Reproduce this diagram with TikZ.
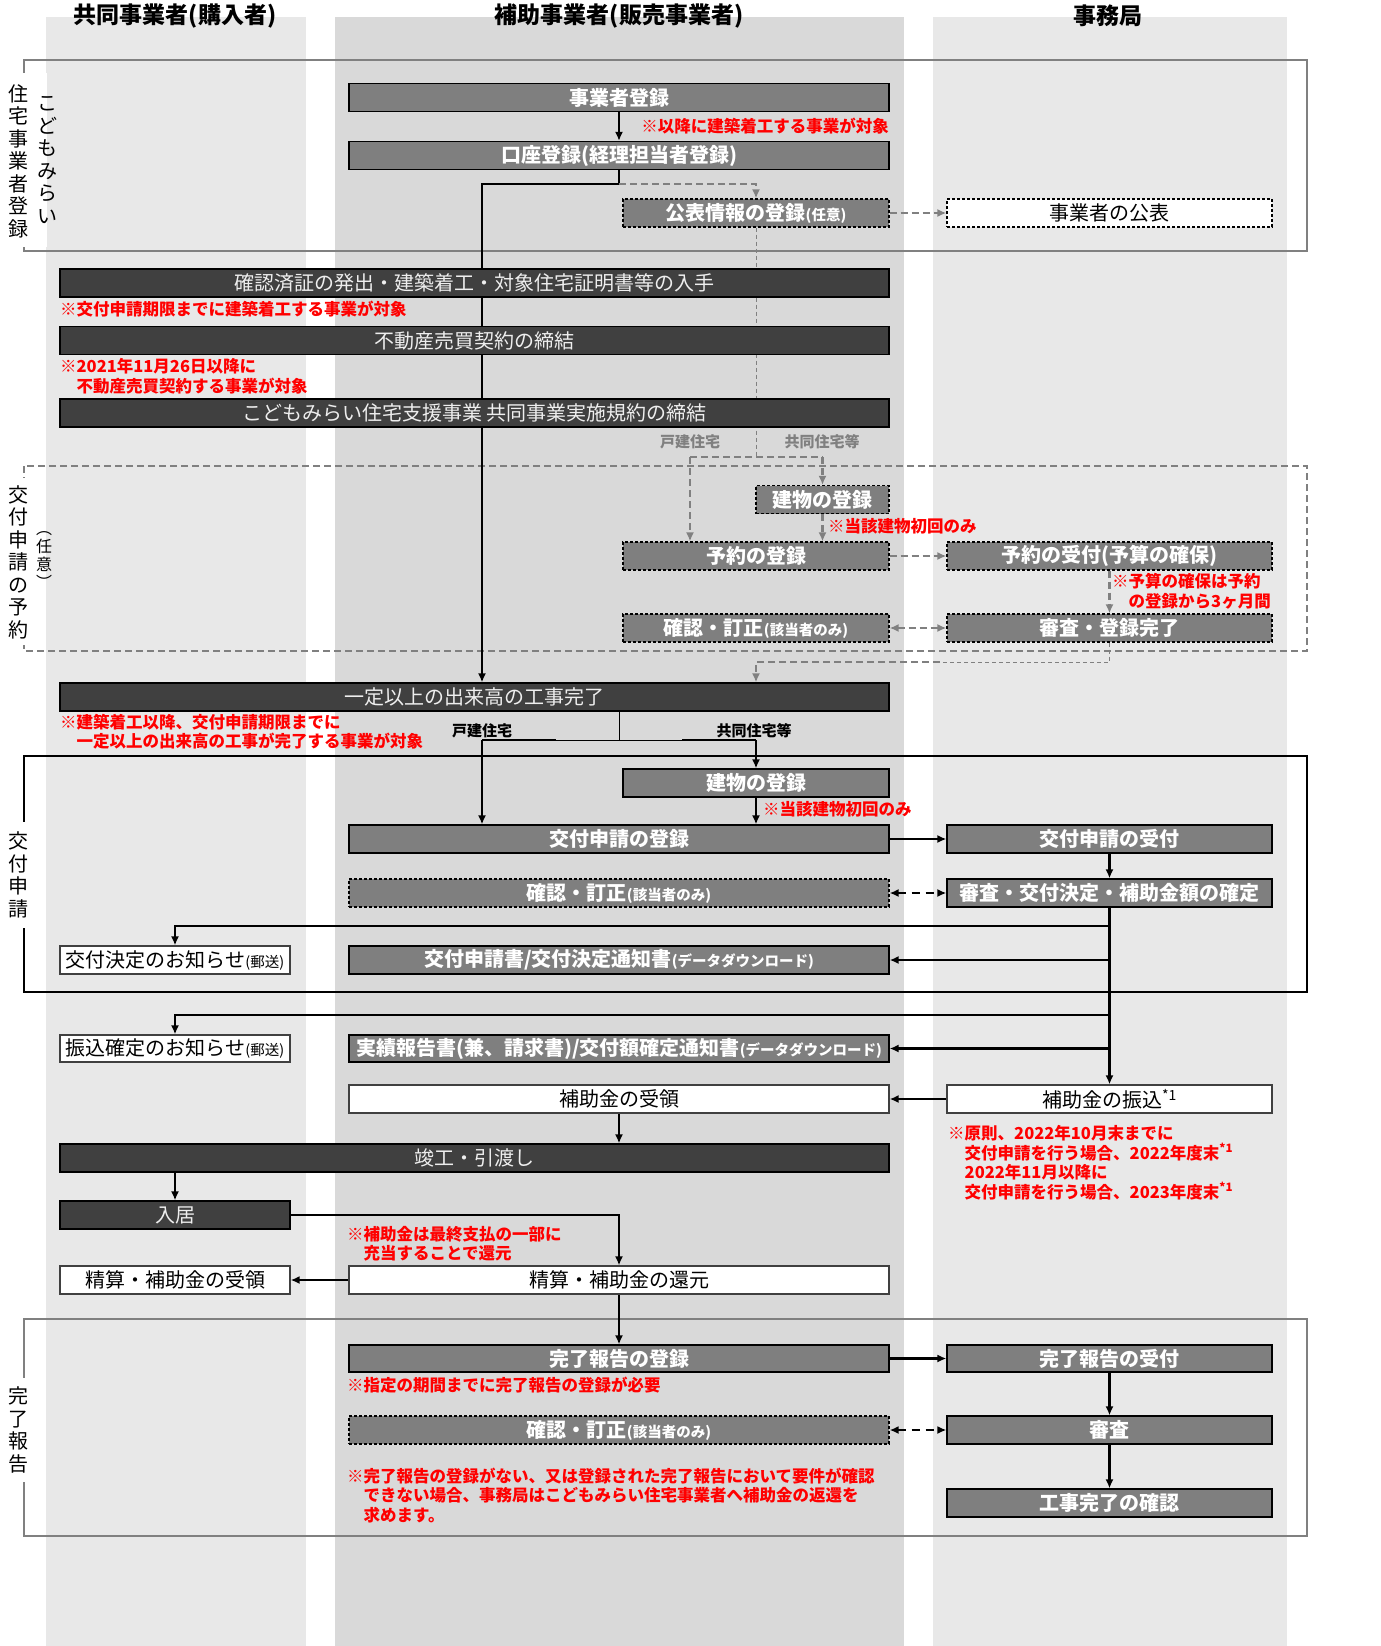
\documentclass[tikz,border=0pt]{standalone}
\usepackage{fontspec}
\setmainfont{Noto Sans CJK JP}
\usetikzlibrary{arrows.meta}

\definecolor{lanepale}{HTML}{E8E8E8}
\definecolor{lanemid}{HTML}{D9D9D9}
\definecolor{boxmid}{HTML}{7F7F7F}
\definecolor{boxdark}{HTML}{404040}
\definecolor{framegray}{HTML}{808080}
\definecolor{darktext}{HTML}{EEEEEE}

\pgfdeclarelayer{lanes}
\pgfdeclarelayer{links}
\pgfsetlayers{lanes,links,main}

\newcommand{\sm}[1]{{\fontsize{14.5}{16}\selectfont #1}}

\tikzset{
  box/.style={line width=1.2pt, minimum height=28pt, inner sep=0pt, font=\fontsize{20}{22}\selectfont},
  midbox/.style={box, draw=black, fill=boxmid, text=white, font=\bfseries\fontsize{20}{22}\selectfont},
  darkbox/.style={box, draw=black, fill=boxdark, text=darktext},
  whitebox/.style={box, draw=boxdark, fill=white, text=black},
  optbox/.style={dash pattern=on 3pt off 2pt},
  note/.style={text=red, font=\bfseries\fontsize{16.5}{19.5}\selectfont, align=left, inner sep=0pt, anchor=west},
  flow/.style={line width=2.2pt, ->},
  flowline/.style={line width=2.2pt},
  thinline/.style={line width=1pt},
  optarrow/.style={line width=2.2pt, dash pattern=on 8pt off 6pt, <->},
  optflow/.style={framegray, line width=2.2pt, dash pattern=on 7pt off 4pt, ->},
  optthin/.style={framegray, line width=1pt, dash pattern=on 4pt off 3pt},
  vlabel/.style={align=center, inner sep=0pt, font=\fontsize{20}{22.5}\selectfont},
  lanehead/.style={font=\bfseries\fontsize{23}{25}\selectfont},
  typelabel/.style={font=\bfseries\fontsize{15}{16}\selectfont},
  frame/.style={line width=2.5pt, framegray}
}

\begin{document}
\begin{tikzpicture}[x=1pt, y=-1pt, >={Latex[length=9pt,width=8pt]}]
\useasboundingbox (0,0) rectangle (1381,1646);

\begin{pgfonlayer}{lanes}
\fill[lanepale] (46,17) rectangle (306,1646);
\fill[lanemid] (335,17) rectangle (904,1646);
\fill[lanepale] (933,17) rectangle (1287,1646);
\draw[frame] (24,60) rectangle (1307,251);
\draw[frame, dash pattern=on 7pt off 4pt] (24,466) rectangle (1307,651);
\draw[line width=2.5pt] (24,756) rectangle (1307,992);
\draw[frame] (24,1319) rectangle (1307,1536);
\fill[white] (8,73) rectangle (47,247);
\fill[white] (8,478) rectangle (36,645);
\fill[white] (8,822) rectangle (32,928);
\fill[white] (8,1378) rectangle (32,1482);
\end{pgfonlayer}

\node[lanehead] (headbuyer) at (175,16) {共同事業者(購入者)};
\node[lanehead] (headseller) at (619,16) {補助事業者(販売事業者)};
\node[lanehead] (headoffice) at (1108,16) {事務局};

\node[vlabel] (secreg) at (19,161) {住\\宅\\事\\業\\者\\登\\録};
\node[vlabel] (secregb) at (47,160) {こ\\ど\\も\\み\\ら\\い};
\node[vlabel] (secres) at (19,562) {交\\付\\申\\請\\の\\予\\約};
\node[vlabel, font=\fontsize{16}{18}\selectfont] (secresb) at (44,560) {︵\\任\\意\\︶};
\node[vlabel] (secapp) at (19,875) {交\\付\\申\\請};
\node[vlabel] (secdone) at (19,1430) {完\\了\\報\\告};

% registration
\node[midbox, minimum width=540pt] (jigyo) at (619,97.5) {事業者登録};
\node[midbox, minimum width=540pt] (kouza) at (619,155.5) {口座登録(経理担当者登録)};
\node[midbox, optbox, minimum width=266pt] (kouhyou) at (756,213) {公表情報の登録\sm{(任意)}};
\node[whitebox, draw=black, optbox, minimum width=325pt] (kouhyouOut) at (1109.5,213) {事業者の公表};

\node[darkbox, minimum width=829pt] (kakuninzumi) at (474.5,283) {確認済証の発出・建築着工・対象住宅証明書等の入手};
\node[darkbox, minimum width=829pt] (fudousan) at (474.5,340.5) {不動産売買契約の締結};
\node[darkbox, minimum width=829pt] (kiyaku) at (474.5,413) {こどもみらい住宅支援事業 共同事業実施規約の締結};

% reservation
\node[midbox, optbox, minimum width=133pt] (tatemonoR) at (822.5,499.5) {建物の登録};
\node[midbox, optbox, minimum width=266pt] (yoyaku) at (756,556) {予約の登録};
\node[midbox, optbox, minimum width=325pt] (yoyakuUke) at (1109.5,556) {予約の受付(予算の確保)};
\node[midbox, optbox, minimum width=266pt] (teiseiR) at (756,628) {確認・訂正\sm{(該当者のみ)}};
\node[midbox, optbox, minimum width=325pt] (shinsaR) at (1109.5,628) {審査・登録完了};

\node[darkbox, minimum width=829pt] (dekidaka) at (474.5,697) {一定以上の出来高の工事完了};

% application
\node[midbox, minimum width=266pt] (tatemono) at (756,783) {建物の登録};
\node[midbox, minimum width=540pt] (shinsei) at (619,839) {交付申請の登録};
\node[midbox, minimum width=325pt] (shinseiUke) at (1109.5,839) {交付申請の受付};
\node[midbox, optbox, minimum width=540pt] (teisei) at (619,893) {確認・訂正\sm{(該当者のみ)}};
\node[midbox, minimum width=325pt] (kettei) at (1109.5,893) {審査・交付決定・補助金額の確定};
\node[whitebox, minimum width=230pt] (ketteiMail) at (175,960) {交付決定のお知らせ\sm{(郵送)}};
\node[midbox, minimum width=540pt] (ketteiDL) at (619,960) {交付申請書/交付決定通知書\sm{(データダウンロード)}};

\node[whitebox, minimum width=230pt, minimum height=27pt] (furikomiMail) at (175,1048.5) {振込確定のお知らせ\sm{(郵送)}};
\node[midbox, minimum width=540pt, minimum height=27pt] (jisseki) at (619,1048.5) {実績報告書(兼、請求書)/交付額確定通知書\sm{(データダウンロード)}};
\node[whitebox, minimum width=540pt] (juryou) at (619,1099) {補助金の受領};
\node[whitebox, minimum width=325pt] (furikomi) at (1109.5,1099) {補助金の振込\textsuperscript{*1}};
\node[darkbox, minimum width=829pt] (shunkou) at (474.5,1158) {竣工・引渡し};
\node[darkbox, minimum width=230pt] (nyukyo) at (175,1215) {入居};
\node[whitebox, minimum width=230pt] (seisanJu) at (175,1280) {精算・補助金の受領};
\node[whitebox, minimum width=540pt] (seisanKan) at (619,1280) {精算・補助金の還元};

% completion report
\node[midbox, minimum width=540pt, minimum height=27pt] (kanryo) at (619,1358.5) {完了報告の登録};
\node[midbox, minimum width=325pt, minimum height=27pt] (kanryoUke) at (1109.5,1358.5) {完了報告の受付};
\node[midbox, optbox, minimum width=540pt] (teiseiK) at (619,1430) {確認・訂正\sm{(該当者のみ)}};
\node[midbox, minimum width=325pt] (shinsaK) at (1109.5,1430) {審査};
\node[midbox, minimum width=325pt] (kouji) at (1109.5,1503) {工事完了の確認};

% notes
\node[note, anchor=east] (noteStart) at (889,126) {※以降に建築着工する事業が対象};
\node[note] (noteLimit) at (60,309) {※交付申請期限までに建築着工する事業が対象};
\node[note] (noteContract) at (60,376.5) {※2021年11月26日以降に\\　不動産売買契約する事業が対象};
\node[note] (noteFirstR) at (828,526) {※当該建物初回のみ};
\node[note] (noteBudget) at (1112,591) {※予算の確保は予約\\　の登録から3ヶ月間};
\node[note] (noteDekidaka) at (60,731.5) {※建築着工以降、交付申請期限までに\\　一定以上の出来高の工事が完了する事業が対象};
\node[note] (noteFirst) at (763,809) {※当該建物初回のみ};
\node[note] (notePay) at (948,1162.5) {※原則、2022年10月末までに\\　交付申請を行う場合、2022年度末\textsuperscript{*1}\\　2022年11月以降に\\　交付申請を行う場合、2023年度末\textsuperscript{*1}};
\node[note] (noteReturn) at (347,1243.5) {※補助金は最終支払の一部に\\　充当することで還元};
\node[note] (noteReport) at (347,1385) {※指定の期間までに完了報告の登録が必要};
\node[note] (noteRefund) at (347,1495.5) {※完了報告の登録がない、又は登録された完了報告において要件が確認\\　できない場合、事務局はこどもみらい住宅事業者へ補助金の返還を\\　求めます。};

\node[typelabel, text=framegray] (kodateRL) at (690,442) {戸建住宅};
\node[typelabel, text=framegray] (kyodoRL) at (822,442) {共同住宅等};
\node[typelabel] (kodateL) at (482,731) {戸建住宅};
\node[typelabel] (kyodoL) at (754,731) {共同住宅等};

\coordinate (kouzaturn) at (619,184);
\coordinate (mainline) at (482,184);
\coordinate (typesplit) at (756,457);
\coordinate (kodateR) at (690,457);
\coordinate (kyodoR) at (822.5,457);
\coordinate (resturn) at (1109.5,662);
\coordinate (resmid) at (940,662);
\coordinate (split) at (619,740);
\coordinate (kodate) at (482,740);
\coordinate (kyodo) at (756,740);
\coordinate (notice1) at (1109.5,926);
\coordinate (notice2) at (1109.5,1015);

\begin{pgfonlayer}{links}
\path[flow] (jigyo) edge (kouza);
\draw[flow] (kouza.south) -- (kouzaturn) -- (mainline) -- (mainline |- dekidaka.north);
\draw[optflow] (kouzaturn) -| (kouhyou.north);
\path[optflow] (kouhyou) edge (kouhyouOut);
\draw[optthin] (kouhyou.south) -- (typesplit);
\draw[optflow, -] (kodateR) -- (kyodoR);
\draw[optflow] (kodateR) -- (kodateR |- yoyaku.north);
\draw[optflow] (kyodoR) -- (tatemonoR.north);
\draw[optflow] (tatemonoR.south) -- (tatemonoR.south |- yoyaku.north);
\path[optflow] (yoyaku) edge (yoyakuUke);
\path[optflow] (yoyakuUke) edge (shinsaR);
\path[optflow, <->] (teiseiR) edge (shinsaR);
\draw[optthin] (shinsaR.south) -- (resturn) -- (resmid);
\draw[optflow] (resmid) -| (dekidaka.north -| kyodo);

\draw[thinline] (dekidaka.south -| split) -- (split);
\draw[thinline] (kodate) -- (kyodo);
\draw[flowline] (kodate) -- ++(74,0);
\draw[flowline] (kyodo) -- ++(-74,0);
\draw[flow] (kodate) -- (kodate |- shinsei.north);
\draw[flow] (kyodo) -- (tatemono.north);
\draw[flow] (tatemono.south) -- (tatemono.south |- shinsei.north);
\path[flow] (shinsei) edge (shinseiUke);
\path[flow] (shinseiUke) edge (kettei);
\path[optarrow] (teisei) edge (kettei);
\path[flow] (kettei) edge (furikomi);
\draw[flow] (notice1) -| (ketteiMail.north);
\draw[flow] (ketteiDL.east -| notice1) -- (ketteiDL.east);
\draw[flow] (notice2) -| (furikomiMail.north);
\draw[flow] (jisseki.east -| notice1) -- (jisseki.east);
\path[flow] (furikomi) edge (juryou);
\draw[flow] (juryou.south) -- (juryou.south |- shunkou.north);
\draw[flow] (shunkou.south -| nyukyo) -- (nyukyo.north);
\draw[flow] (nyukyo.east) -| (seisanKan.north);
\path[flow] (seisanKan) edge (seisanJu);
\path[flow] (seisanKan) edge (kanryo);
\path[flow] (kanryo) edge (kanryoUke);
\path[flow] (kanryoUke) edge (shinsaK);
\path[optarrow] (teiseiK) edge (shinsaK);
\path[flow] (shinsaK) edge (kouji);
\end{pgfonlayer}
\end{tikzpicture}
\end{document}
